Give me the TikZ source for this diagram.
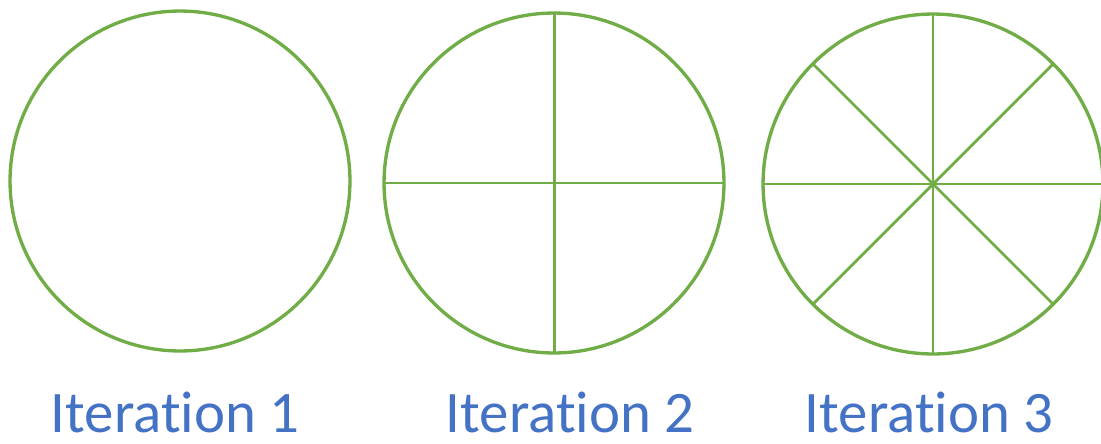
\documentclass[tikz,border=0pt]{standalone}
\usepackage{fontspec}
\setmainfont{Carlito}[Ligatures=NoCommon]
\definecolor{ringgreen}{HTML}{70AD47}
\definecolor{capblue}{HTML}{4472C4}

\begin{document}
\begin{tikzpicture}[
  x=0.02cm, y=-0.02cm,
  ring/.style={draw=ringgreen,circle,line width=1.9pt,inner sep=0pt,
               outer sep=0pt,minimum size=6.8cm},
  spoke/.style={draw=ringgreen,line width=#1},
  spoke/.default=1.3pt,
  caption/.style={font=\fontsize{33.5}{38}\selectfont,text=capblue,
                  anchor=base,text depth=0pt,inner sep=1pt},
]
\useasboundingbox (0,0) rectangle (1101,443);

% --- the three circles ---
\node[ring] (c1) at (180,181) {};
\node[ring] (c2) at (554,183) {};
\node[ring] (c3) at (933,184) {};

% --- iteration 2: split in four ---
\draw[spoke=1.7pt] (c2.north) -- (c2.south);
\draw[spoke=1.7pt] (c2.west) -- (c2.east);

% --- iteration 3: split in eight ---
\draw[spoke] (c3.north) -- (c3.south);
\draw[spoke] (c3.west) -- (c3.east);
\draw[spoke=1.6pt] (c3.north west) -- (c3.south east);
\draw[spoke=1.6pt] (c3.north east) -- (c3.south west);

% --- captions ---
\node[caption] (t1) at (175,432) {Iteration 1};
\node[caption] (t2) at (570,432) {Iteration 2};
\node[caption] (t3) at (929,432) {Iteration 3};

\end{tikzpicture}
\end{document}
